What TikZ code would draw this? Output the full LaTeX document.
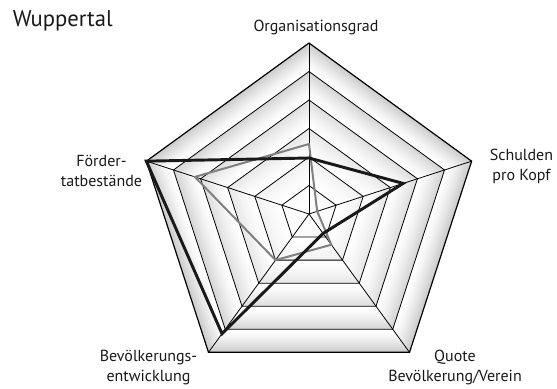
\documentclass[tikz,border=0pt]{standalone}
\usepackage{fontspec}
\setmainfont{PT Sans}
\usetikzlibrary{calc}
\tikzset{
  gridline/.style={draw=black, line width=0.6pt},
  outerline/.style={draw=black, line width=0.9pt},
  blackseries/.style={draw=black!90, line width=2.2pt, line join=miter},
  grayseries/.style={draw=black!50, line width=1.5pt, line join=miter},
  axislabel/.style={font={\fontsize{12}{15}\selectfont}, align=center, text=black!90, inner sep=0pt},
  titlelabel/.style={font={\fontsize{17}{20}\selectfont}, text=black!90, inner sep=0pt}
}
\begin{document}
\begin{tikzpicture}[x=0.75pt,y=-0.75pt]
\useasboundingbox (0,0) rectangle (557,389);
\coordinate (C) at (309,214);
% ring corner coordinates
\foreach \k in {1,...,6}{
  \foreach \i/\a in {1/-90,2/-18,3/54,4/126,5/198}{
    \coordinate (r\k-\i) at ($(C)+(\a:\k*28.5)$);
  }
}
% shaded bands (stepped gradient: grey at each ring, fading inward)
\foreach \k in {6,5,4,3,2,1}{
  \pgfmathsetmacro\gk{2+3.6*(\k-1)}
  \foreach \j in {0,...,26}{
    \pgfmathsetmacro\rr{28.5*\k-\j}
    \pgfmathsetmacro\cc{\gk*(1-\j/26)^1.3}
    \fill[black!\cc] ($(C)+(-90:\rr)$)--($(C)+(-18:\rr)$)--($(C)+(54:\rr)$)--($(C)+(126:\rr)$)--($(C)+(198:\rr)$)--cycle;
  }
}
% rings
\foreach \k in {1,...,5}{
  \draw[gridline] (r\k-1)--(r\k-2)--(r\k-3)--(r\k-4)--(r\k-5)--cycle;
}
% spokes
\foreach \i in {1,...,5}{
  \draw[gridline] (C) -- (r6-\i);
}
\draw[outerline] (r6-1)--(r6-2)--(r6-3)--(r6-4)--(r6-5)--cycle;
% data points
\coordinate (g1) at ($(C)+(-90:70)$);
\coordinate (g2) at ($(C)+(-18:8.6)$);
\coordinate (g3) at ($(C)+(54:38)$);
\coordinate (g4) at ($(C)+(126:57)$);
\coordinate (g5) at ($(C)+(198:120)$);
\coordinate (b1) at ($(C)+(-90:56)$);
\coordinate (b2) at ($(C)+(-18:99)$);
\coordinate (b3) at ($(C)+(54:24)$);
\coordinate (b4) at ($(C)+(126:148)$);
\coordinate (b5) at ($(C)+(198:171)$);
\draw[grayseries] (g1)--(g2)--(g3)--(g4)--(g5)--cycle;
\draw[blackseries] (b1)--(b2)--(b3)--(b4)--(b5)--cycle;
% labels
\node[titlelabel, anchor=base west] (title) at (12.5,26.7) {Wuppertal};
\node[axislabel, anchor=base] (lorg) at (316,31.7) {Organisationsgrad};
\node[axislabel, anchor=base] (lsch) at (521.5,180) {Schulden\\pro Kopf};
\node[axislabel, anchor=base] (lquo) at (455,381.7) {Quote\\Bevölkerung/Verein};
\node[axislabel, anchor=base] (lbev) at (148.5,381.7) {Bevölkerungs-\\entwicklung};
\node[axislabel, anchor=base] (lfoe) at (101.5,186.7) {Förder-\\tatbestände};
\end{tikzpicture}
\end{document}
